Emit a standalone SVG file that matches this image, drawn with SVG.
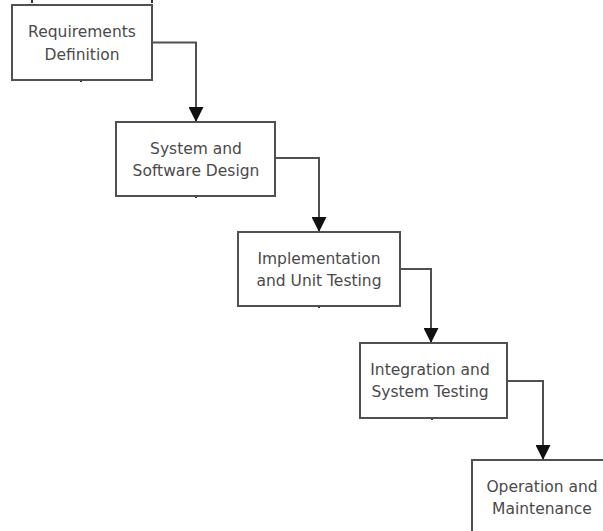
<svg xmlns="http://www.w3.org/2000/svg" width="603" height="531" viewBox="0 0 603 531">
<defs>
<style>
.box{fill:#ffffff;stroke:#505050;stroke-width:2}
.lbl{font-family:"DejaVu Sans","Verdana",sans-serif;font-size:15.5px;fill:#4a4a4a;text-anchor:middle}
.con{fill:none;stroke:#505050;stroke-width:2}
.tick{stroke:#303030;stroke-width:2}
</style>
<marker id="ah" markerWidth="15" markerHeight="15" refX="15" refY="7.5" orient="auto" markerUnits="userSpaceOnUse">
<path d="M0,0 L15,7.5 L0,15 Z" fill="#111"/>
</marker>
</defs>
<rect width="603" height="531" fill="#ffffff"/>
<g id="ticks">
<line class="tick" x1="32" y1="0" x2="32" y2="3"/>
<line class="tick" x1="152" y1="0" x2="152" y2="3"/>
<line class="tick" x1="81" y1="80" x2="81" y2="82"/>
<line class="tick" x1="196" y1="196" x2="196" y2="198"/>
<line class="tick" x1="319" y1="306" x2="319" y2="308"/>
<line class="tick" x1="432" y1="418" x2="432" y2="420"/>
</g>
<g id="connectors">
<path class="con" d="M152,42.5 H196 V122" marker-end="url(#ah)"/>
<path class="con" d="M275,158 H319 V232" marker-end="url(#ah)"/>
<path class="con" d="M400,269 H431 V343" marker-end="url(#ah)"/>
<path class="con" d="M507,381 H543 V460" marker-end="url(#ah)"/>
</g>
<g id="n1">
<rect class="box" x="12" y="5" width="140" height="75"/>
<text class="lbl" x="82" y="37">Requirements</text>
<text class="lbl" x="82" y="60">Definition</text>
</g>
<g id="n2">
<rect class="box" x="116" y="122" width="159" height="74"/>
<text class="lbl" x="196" y="154">System and</text>
<text class="lbl" x="196" y="176">Software Design</text>
</g>
<g id="n3">
<rect class="box" x="238" y="232" width="162" height="74"/>
<text class="lbl" x="319" y="264">Implementation</text>
<text class="lbl" x="319" y="286">and Unit Testing</text>
</g>
<g id="n4">
<rect class="box" x="360" y="343" width="147" height="75"/>
<text class="lbl" x="430" y="375">Integration and</text>
<text class="lbl" x="430" y="397">System Testing</text>
</g>
<g id="n5">
<rect class="box" x="472" y="460" width="150" height="90"/>
<text class="lbl" x="542" y="492">Operation and</text>
<text class="lbl" x="542" y="514">Maintenance</text>
</g>
</svg>
